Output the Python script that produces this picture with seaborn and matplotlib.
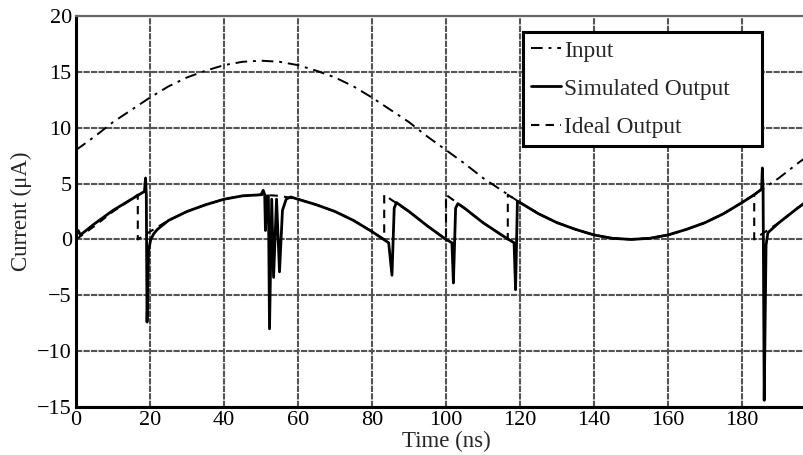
import matplotlib
matplotlib.use("Agg")
import matplotlib.pyplot as plt
import seaborn as sns
import pandas as pd

# Input current (uA) sampled every 5 ns
input_t = [0, 5, 10, 15, 20, 25, 30, 35, 40, 45, 50, 55, 60, 65, 70, 75, 80, 85, 90, 95,
           100, 105, 110, 115, 120, 125, 130, 135, 140, 145, 150, 155, 160, 165, 170, 175,
           180, 185, 190, 195, 200]
input_v = [8.0, 9.2, 10.5, 11.6, 12.7, 13.7, 14.5, 15.1, 15.6, 15.9, 16.0, 15.9, 15.6, 15.1,
           14.5, 13.7, 12.7, 11.6, 10.5, 9.2, 8.0, 6.8, 5.5, 4.4, 3.3, 2.3, 1.5, 0.9, 0.4,
           0.1, 0.0, 0.1, 0.4, 0.9, 1.5, 2.3, 3.3, 4.4, 5.5, 6.8, 8.0]

# Ideal output (uA), with the vertical resets
ideal_t = [0, 5, 10, 15, 16.7, 16.7, 20, 25, 30, 35, 40, 45, 50, 55, 60, 65, 70, 75, 80,
           83.3, 83.3, 85, 90, 95, 100, 100, 105, 110, 115, 116.7, 116.7, 120, 125, 130,
           135, 140, 145, 150, 155, 160, 165, 170, 175, 180, 183.3, 183.3, 185, 190, 195, 200]
ideal_v = [0.0, 1.2, 2.5, 3.6, 4.0, 0.0, 0.7, 1.7, 2.5, 3.1, 3.6, 3.9, 4.0, 3.9, 3.6, 3.1,
           2.5, 1.7, 0.7, 0.0, 4.0, 3.6, 2.5, 1.2, 0.0, 4.0, 2.8, 1.5, 0.4, 0.0, 4.0, 3.3,
           2.3, 1.5, 0.9, 0.4, 0.1, 0.0, 0.1, 0.4, 0.9, 1.5, 2.3, 3.3, 4.0, 0.0, 0.4, 1.5,
           2.8, 4.0]

# Simulated output (uA), including switching glitches
sim_t = [0, 0.6, 1.2, 5, 10, 15, 18.5, 18.8, 19.0, 19.2, 19.6, 20.2, 21, 22, 25, 30, 35,
         40, 45, 50, 50.6, 51.0, 51.2, 51.6, 52.0, 52.3, 52.9, 53.4, 54.2, 55.0, 55.8,
         56.8, 58, 60, 65, 70, 75, 80, 84.5, 85.4, 86.0, 86.6, 90, 95, 100, 101.6, 102.0,
         102.6, 103.2, 105, 110, 115, 118.4, 118.8, 119.3, 120, 125, 130, 135, 140, 145,
         150, 155, 160, 165, 170, 175, 180, 183.3, 185.3, 185.5, 185.7, 186.0, 186.5, 187,
         190, 195, 200]
sim_v = [0.3, 0.8, 0.4, 1.4, 2.6, 3.6, 4.3, 5.5, 4.0, -7.4, -1.0, 0.0, 0.5, 0.9, 1.7, 2.5,
         3.1, 3.6, 3.9, 4.0, 4.4, 4.0, 0.8, 3.9, 3.9, -8.0, 3.6, -3.4, 3.6, -2.9, 2.6,
         3.6, 3.8, 3.6, 3.1, 2.5, 1.7, 0.7, -0.3, -3.2, 2.8, 3.3, 2.5, 1.2, 0.0, -0.3,
         -3.9, 2.8, 3.2, 2.8, 1.5, 0.4, -0.3, -4.5, 3.4, 3.3, 2.3, 1.5, 0.9, 0.4, 0.1,
         0.0, 0.1, 0.4, 0.9, 1.5, 2.3, 3.3, 4.0, 4.5, 6.4, 4.4, -14.4, -0.5, 0.6, 1.5,
         2.8, 4.0]

x_ticks = [0, 20, 40, 60, 80, 100, 120, 140, 160, 180]
y_ticks = [-15, -10, -5, 0, 5, 10, 15, 20]

sns.set_style("white")
plt.rcParams["font.family"] = ["Liberation Serif", "DejaVu Serif"]

fig = plt.figure(figsize=(8.04, 4.55), dpi=100)
# axes run to t = 200 ns; the right end falls just past the figure edge
ax = fig.add_axes([76 / 804, 48 / 455, 740 / 804, 391 / 455])

df_in = pd.DataFrame({"t": input_t, "i": input_v})
df_sim = pd.DataFrame({"t": sim_t, "i": sim_v})
df_id = pd.DataFrame({"t": ideal_t, "i": ideal_v})

sns.lineplot(data=df_in, x="t", y="i", ax=ax, estimator=None, sort=False,
             color="black", lw=1.4, linestyle=(0, (6, 3, 1.5, 3)), label="Input")
sns.lineplot(data=df_sim, x="t", y="i", ax=ax, estimator=None, sort=False,
             color="black", lw=2.0, label="Simulated Output", zorder=3)
sns.lineplot(data=df_id, x="t", y="i", ax=ax, estimator=None, sort=False,
             color="black", lw=1.5, linestyle=(0, (4, 3)), label="Ideal Output", zorder=2)

ax.set_xlim(0, 200)
ax.set_ylim(-15, 20)
ax.set_xticks(x_ticks)
ax.set_yticks(y_ticks)
ax.grid(True, color="0.33", lw=1.5, linestyle=(0, (3, 0.6)))
ax.set_axisbelow(True)

for side in ("left", "bottom"):
    ax.spines[side].set_color("black")
    ax.spines[side].set_linewidth(2.2)
ax.spines["top"].set_color("0.4")
ax.spines["top"].set_linewidth(1.6)
ax.spines["right"].set_visible(False)

ax.tick_params(axis="both", direction="in", length=4, width=1.2, labelsize=16,
               colors="black")
ax.tick_params(axis="x", pad=3)
ax.tick_params(axis="y", pad=3)

ax.set_xlabel("Time (ns)", fontsize=16.5, labelpad=0.5)
ax.set_ylabel("Current (μA)", fontsize=16.5, labelpad=4)

# legend box spans a fixed region in figure pixels
lx0, lx1, ly0, ly1 = 523 / 804, 762 / 804, (455 - 148) / 455, (455 - 32) / 455
leg = ax.legend(loc="upper left", bbox_to_anchor=(lx0, ly0, lx1 - lx0, ly1 - ly0),
                bbox_transform=fig.transFigure, mode="expand", fontsize=16.8,
                frameon=True, fancybox=False, handlelength=1.3, handletextpad=0.12,
                labelspacing=0.72, borderpad=0.35, borderaxespad=0)
leg.get_frame().set_edgecolor("black")
leg.get_frame().set_linewidth(2.2)
leg.get_frame().set_facecolor("white")
leg.get_frame().set_alpha(1)

fig.savefig("out.png", dpi=100)
